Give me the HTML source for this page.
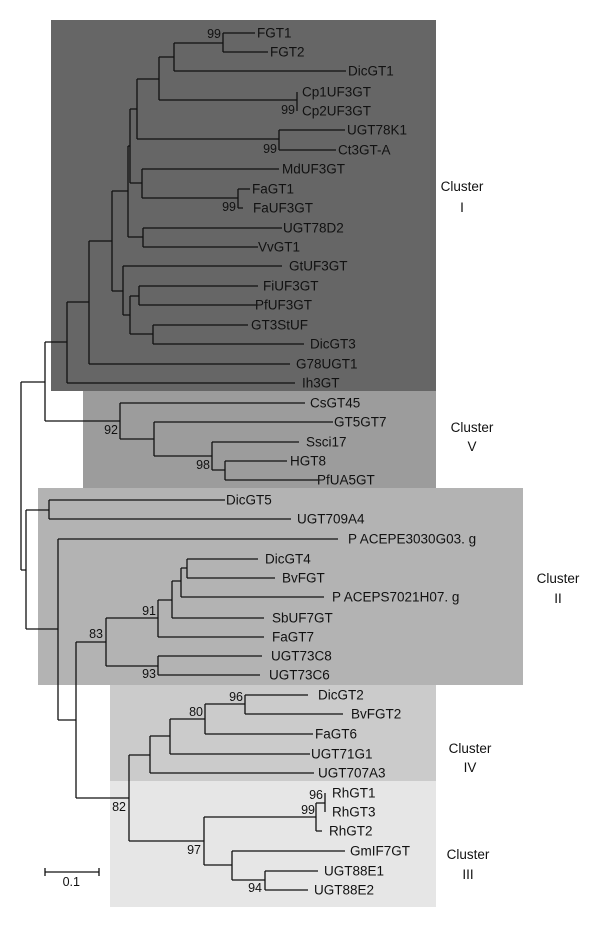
<!DOCTYPE html>
<html><head><meta charset="utf-8"><style>
html,body{margin:0;padding:0;background:#fff}
svg{display:block}
text{font-family:"Liberation Sans",sans-serif;fill:#111}
.l{font-size:13.5px}
.n{font-size:12.5px}
.c{font-size:13.5px;text-anchor:middle}
</style></head><body>
<svg width="600" height="927" viewBox="0 0 600 927" xmlns="http://www.w3.org/2000/svg">
<rect x="51" y="20" width="385" height="371" fill="#666666"/>
<rect x="83" y="391" width="353" height="97" fill="#9c9c9c"/>
<rect x="38" y="488" width="485" height="197" fill="#b3b3b3"/>
<rect x="110" y="685" width="326" height="96" fill="#cbcbcb"/>
<rect x="110" y="781" width="326" height="126" fill="#e6e6e6"/>
<g fill="none" stroke="#111" stroke-width="1.3">
<!-- Cluster I -->
<path d="M223 33V52M223 33H255M223 52H268"/>
<path d="M174 43V71M174 43H223M174 71H346"/>
<path d="M159 57V100M159 57H174M159 100H297M297 92V111"/>
<path d="M137 79V139M137 79H159M137 139H279M279 130V150M279 130H345M279 150H336"/>
<path d="M130 109V183M130 109H137M130 183H142"/>
<path d="M142 169V198M142 169H279M142 198H238M238 189V208M238 189H250M238 208H243"/>
<path d="M128 146V237M128 146H130M128 237H143M143 228V247M143 228H282M143 247H258"/>
<path d="M112 191V291M112 191H128M112 291H123"/>
<path d="M123 266V315M123 266H282M123 315H130"/>
<path d="M130 296V334M130 296H139M139 286V305M139 286H258M139 305H256"/>
<path d="M130 334H153M153 325V344M153 325H248M153 344H304"/>
<path d="M89 241V364M89 241H112M89 364H290"/>
<path d="M67 302V383M67 302H89M67 383H295"/>
<path d="M45 342V421M45 342H67M45 421H120"/>
<path d="M21 382V570M21 382H45"/>
<!-- Cluster V -->
<path d="M120 403V439M120 403H305M120 439H154"/>
<path d="M154 422V456M154 422H333M154 456H212"/>
<path d="M212 442V470M212 442H299M212 470H225M225 461V480M225 461H287M225 480H318"/>
<!-- Cluster II -->
<path d="M21 570H26M26 510V629M26 510H49M49 500V519M49 500H225M49 519H291"/>
<path d="M26 629H58M58 539V720M58 539H338M58 720H76"/>
<path d="M76 642V798M76 642H106M106 618V666M106 618H158M106 666H158"/>
<path d="M158 600V637M158 600H172M158 637H264"/>
<path d="M172 581V618M172 581H181M172 618H264"/>
<path d="M181 568V597M181 568H187M181 597H324"/>
<path d="M187 559V578M187 559H258M187 578H275"/>
<path d="M158 656V675M158 656H262M158 675H260"/>
<!-- Cluster IV / III -->
<path d="M76 798H129M129 755V841M129 755H150"/>
<path d="M150 736V773M150 736H170M150 773H314"/>
<path d="M170 719V754M170 719H205M170 754H310"/>
<path d="M205 704V734M205 704H245M205 734H313"/>
<path d="M245 695V714M245 695H308M245 714H343"/>
<path d="M129 841H204M204 817V865M204 817H316M204 865H232"/>
<path d="M316 803V831M316 803H325M316 831H322M325 793V812"/>
<path d="M232 851V880M232 851H345M232 880H265M265 871V890M265 871H318M265 890H308"/>
<!-- scale -->
<path d="M45 872H99M45 868V876M99 868V876"/>
</g>
<g class="l" dominant-baseline="central">
<text x="257" y="33">FGT1</text>
<text x="270" y="52">FGT2</text>
<text x="348" y="71">DicGT1</text>
<text x="302" y="92">Cp1UF3GT</text>
<text x="302" y="111">Cp2UF3GT</text>
<text x="347" y="130">UGT78K1</text>
<text x="338" y="150">Ct3GT-A</text>
<text x="282" y="169">MdUF3GT</text>
<text x="252" y="189">FaGT1</text>
<text x="253" y="208">FaUF3GT</text>
<text x="283" y="228">UGT78D2</text>
<text x="258" y="247">VvGT1</text>
<text x="289" y="266">GtUF3GT</text>
<text x="263" y="286">FiUF3GT</text>
<text x="255" y="305">PfUF3GT</text>
<text x="251" y="325">GT3StUF</text>
<text x="310" y="344">DicGT3</text>
<text x="296" y="364">G78UGT1</text>
<text x="302" y="383">Ih3GT</text>
<text x="310" y="403">CsGT45</text>
<text x="334" y="422">GT5GT7</text>
<text x="306" y="442">Ssci17</text>
<text x="290" y="461">HGT8</text>
<text x="317" y="480">PfUA5GT</text>
<text x="226" y="500">DicGT5</text>
<text x="297" y="519">UGT709A4</text>
<text x="348" y="539">P ACEPE3030G03. g</text>
<text x="265" y="559">DicGT4</text>
<text x="282" y="578">BvFGT</text>
<text x="332" y="597">P ACEPS7021H07. g</text>
<text x="272" y="618">SbUF7GT</text>
<text x="272" y="637">FaGT7</text>
<text x="271" y="656">UGT73C8</text>
<text x="269" y="675">UGT73C6</text>
<text x="318" y="695">DicGT2</text>
<text x="351" y="714">BvFGT2</text>
<text x="315" y="734">FaGT6</text>
<text x="311" y="754">UGT71G1</text>
<text x="318" y="773">UGT707A3</text>
<text x="332" y="793">RhGT1</text>
<text x="332" y="812">RhGT3</text>
<text x="329" y="831">RhGT2</text>
<text x="350" y="851">GmIF7GT</text>
<text x="324" y="871">UGT88E1</text>
<text x="314" y="890">UGT88E2</text>
</g>
<g class="n" dominant-baseline="central" text-anchor="end">
<text x="221" y="34">99</text>
<text x="295" y="110">99</text>
<text x="277" y="149">99</text>
<text x="236" y="207">99</text>
<text x="118" y="430">92</text>
<text x="210" y="465">98</text>
<text x="156" y="611">91</text>
<text x="103" y="634">83</text>
<text x="156" y="674">93</text>
<text x="243" y="697">96</text>
<text x="203" y="712">80</text>
<text x="126" y="807">82</text>
<text x="323" y="795">96</text>
<text x="315" y="810">99</text>
<text x="201" y="850">97</text>
<text x="262" y="888">94</text>
<text x="80" y="882">0.1</text>
</g>
<g class="c">
<text x="462" y="191">Cluster</text><text x="462" y="212">I</text>
<text x="472" y="432">Cluster</text><text x="472" y="451">V</text>
<text x="558" y="583">Cluster</text><text x="558" y="603">II</text>
<text x="470" y="753">Cluster</text><text x="470" y="772">IV</text>
<text x="468" y="859">Cluster</text><text x="468" y="879">III</text>
</g>
</svg>
</body></html>
